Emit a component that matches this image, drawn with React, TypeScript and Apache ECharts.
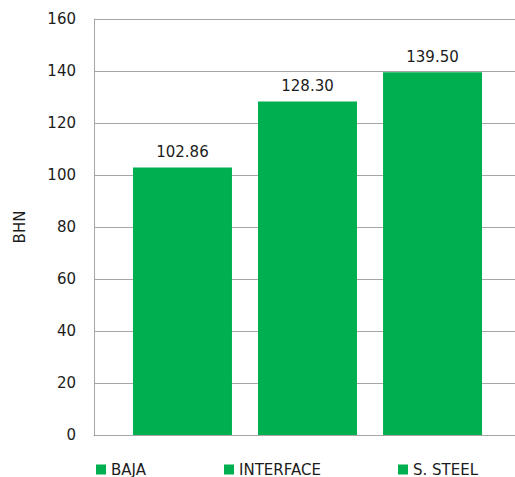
import React, { useEffect, useRef } from "react";
import * as echarts from "echarts";

// Brinell hardness per zone
const seriesNames = ["BAJA", "INTERFACE", "S. STEEL"];
const hardnessValues = [102.86, 128.3, 139.5];
const categories = ["Zona"];
const legendLefts = [96, 224, 398];

const BAR_COLOR = "#00B050";
const GRID_COLOR = "#A6A6A6";
const TEXT_COLOR = "#1C1C1C";
const FONT = "DejaVu Sans, Verdana, sans-serif";

export default function App() {
  const ref = useRef<HTMLDivElement>(null);

  useEffect(() => {
    if (!ref.current) return;
    const chart = echarts.init(ref.current, undefined, { renderer: "svg" });

    const series = seriesNames.map((name, i) => ({
      name,
      type: "bar" as const,
      data: [hardnessValues[i]],
      barWidth: 99,
      barGap: "26.3%",
      itemStyle: { color: BAR_COLOR },
      label: {
        show: true,
        position: "top" as const,
        distance: 8,
        color: TEXT_COLOR,
        fontFamily: FONT,
        fontSize: 15,
        formatter: (p: any) => Number(p.value).toFixed(2),
      },
    }));

    chart.setOption({
      animation: false,
      backgroundColor: "#ffffff",
      textStyle: { fontFamily: FONT },
      // the plot area runs a few pixels past the visible right edge
      grid: { left: 94, top: 19, bottom: 42, right: 0, containLabel: false },
      legend: seriesNames.map((name, i) => ({
        data: [name],
        left: legendLefts[i],
        top: 462,
        icon: "rect",
        itemWidth: 10,
        itemHeight: 10,
        padding: 0,
        textStyle: { color: TEXT_COLOR, fontFamily: FONT, fontSize: 15 },
        selectedMode: false,
      })),
      xAxis: {
        type: "category",
        data: categories,
        axisLine: { show: true, lineStyle: { color: GRID_COLOR, width: 1 } },
        axisTick: { show: false },
        axisLabel: { show: false },
      },
      yAxis: {
        type: "value",
        min: 0,
        max: 160,
        interval: 20,
        name: "BHN",
        nameLocation: "middle",
        nameGap: 67,
        nameTextStyle: { color: TEXT_COLOR, fontFamily: FONT, fontSize: 15 },
        axisLine: { show: true, lineStyle: { color: GRID_COLOR, width: 1 } },
        axisTick: { show: false },
        axisLabel: { color: TEXT_COLOR, fontFamily: FONT, fontSize: 15, margin: 18 },
        splitLine: { show: true, lineStyle: { color: GRID_COLOR, width: 1 } },
      },
      series,
    });

    return () => chart.dispose();
  }, []);

  return (
    <div
      style={{
        position: "fixed",
        left: 0,
        top: 0,
        width: 515,
        height: 477,
        overflow: "hidden",
        background: "#fff",
      }}
    >
      <div ref={ref} style={{ width: 521, height: 477 }} />
    </div>
  );
}
